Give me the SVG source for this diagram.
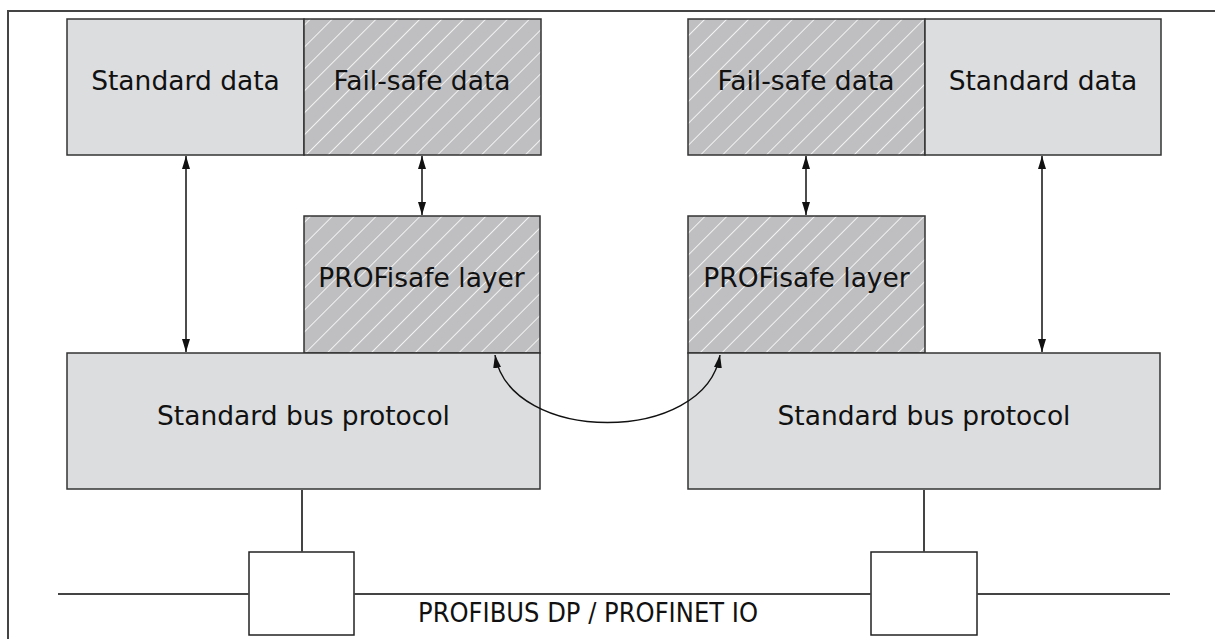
<svg xmlns="http://www.w3.org/2000/svg" width="1215" height="639" viewBox="0 0 1215 639">
<defs>
<style>
.std{fill:#dcdddf;stroke:#333;stroke-width:1.5}
.fs{fill:url(#hatch);stroke:#333;stroke-width:1.5}
.port{fill:#fff;stroke:#222;stroke-width:1.5}
.t{font-family:"DejaVu Sans",Verdana,sans-serif;font-size:26.5px;fill:#111;text-anchor:middle}
.ln{stroke:#444;stroke-width:2;fill:none}
.ar{stroke:#111;stroke-width:1.5;fill:none;marker-start:url(#ah);marker-end:url(#ah)}
</style>
<pattern id="hatch" patternUnits="userSpaceOnUse" width="15.5" height="15.5" patternTransform="rotate(45)">
<rect width="15.5" height="15.5" fill="#bfbfc1"/>
<line x1="0" y1="0" x2="0" y2="15.5" stroke="#fff" stroke-width="1.6"/>
</pattern>
<marker id="ah" viewBox="0 0 13 8" refX="13" refY="4" markerWidth="13" markerHeight="8" markerUnits="userSpaceOnUse" orient="auto-start-reverse">
<path d="M0,0 L13,4 L0,8 Z" fill="#111"/>
</marker>
</defs>
<rect width="1215" height="639" fill="#fff"/>
<path class="ln" d="M8,639 V11 H1215"/>
<g id="left-standard-data"><rect class="std" x="67" y="19" width="237" height="136"/><text class="t" x="185.5" y="90">Standard data</text></g>
<g id="left-failsafe-data"><rect class="fs" x="304" y="19" width="237" height="136"/><text class="t" x="422" y="90">Fail-safe data</text></g>
<g id="left-profisafe"><rect class="fs" x="304" y="216" width="236" height="137"/><text class="t" x="421.5" y="287">PROFisafe layer</text></g>
<g id="left-bus-protocol"><rect class="std" x="67" y="353" width="473" height="136"/><text class="t" x="303.5" y="425">Standard bus protocol</text></g>
<g id="left-port"><rect class="port" x="249" y="552" width="105" height="83"/></g>
<g id="right-failsafe-data"><rect class="fs" x="688" y="19" width="237" height="136"/><text class="t" x="806" y="90">Fail-safe data</text></g>
<g id="right-standard-data"><rect class="std" x="925" y="19" width="236" height="136"/><text class="t" x="1043" y="90">Standard data</text></g>
<g id="right-profisafe"><rect class="fs" x="688" y="216" width="237" height="137"/><text class="t" x="806.5" y="287">PROFisafe layer</text></g>
<g id="right-bus-protocol"><rect class="std" x="688" y="353" width="472" height="136"/><text class="t" x="924" y="425">Standard bus protocol</text></g>
<g id="right-port"><rect class="port" x="871" y="552" width="106" height="83"/></g>
<g id="bus-label"><text class="t" x="588" y="622" textLength="340" lengthAdjust="spacingAndGlyphs">PROFIBUS DP / PROFINET IO</text></g>
<g id="connectors">
<line class="ln" x1="302" y1="490" x2="302" y2="552"/>
<line class="ln" x1="924" y1="490" x2="924" y2="552"/>
<line class="ln" x1="58" y1="594" x2="249" y2="594"/>
<line class="ln" x1="354" y1="594" x2="871" y2="594"/>
<line class="ln" x1="977" y1="594" x2="1170" y2="594"/>
<line class="ar" x1="186" y1="156" x2="186" y2="352"/>
<line class="ar" x1="422" y1="156" x2="422" y2="215"/>
<line class="ar" x1="806" y1="156" x2="806" y2="215"/>
<line class="ar" x1="1042" y1="156" x2="1042" y2="352"/>
<path class="ar" d="M495,355 C510,445 705,445 720,355"/>
</g>
</svg>
